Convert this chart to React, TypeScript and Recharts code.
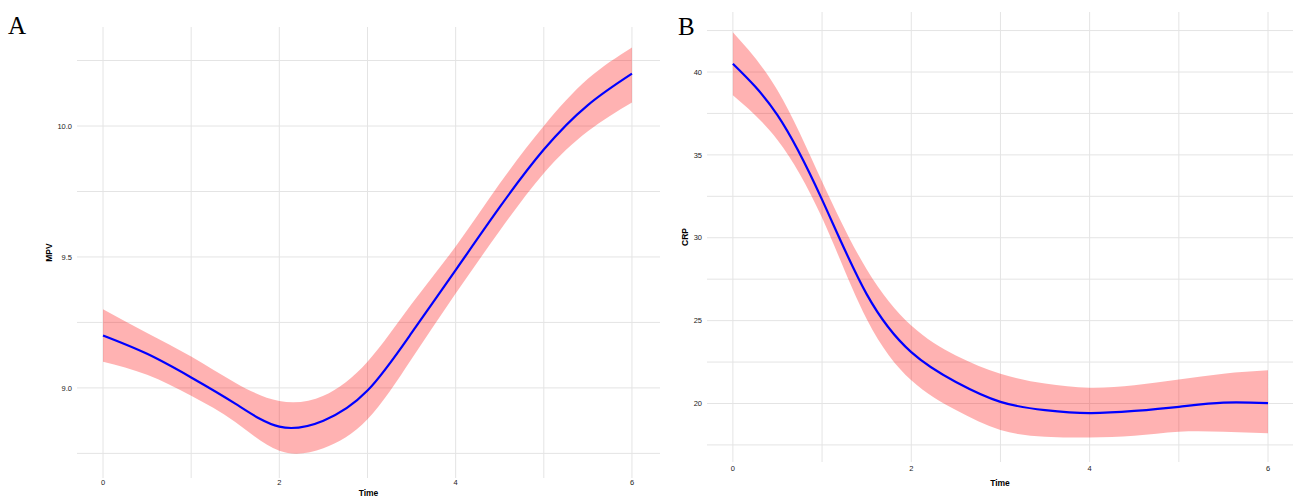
import { Area, CartesianGrid, ComposedChart, Line, XAxis, YAxis } from "recharts";

// time points (every half unit)
const timePoints = [0, 0.5, 1, 1.5, 2, 2.5, 3, 3.5, 4, 4.5, 5, 5.5, 6];

// panel A: MPV fit and its confidence band
const mpvFit = [9.2, 9.13, 9.04, 8.94, 8.852, 8.875, 8.99, 9.21, 9.45, 9.69, 9.91, 10.08, 10.2];
const mpvLower = [9.1, 9.05, 8.97, 8.87, 8.76, 8.77, 8.88, 9.11, 9.36, 9.6, 9.82, 9.98, 10.09];
const mpvUpper = [9.3, 9.21, 9.12, 9.02, 8.95, 8.97, 9.1, 9.32, 9.54, 9.78, 10.0, 10.18, 10.3];

// panel B: CRP fit and its confidence band
const crpFit = [40.5, 37.4, 32.3, 26.6, 23.1, 21.3, 20.1, 19.6, 19.42, 19.55, 19.8, 20.05, 20.02];
const crpLower = [38.6, 35.9, 31.2, 25.1, 21.4, 19.6, 18.4, 18.0, 17.95, 18.05, 18.3, 18.3, 18.2];
const crpUpper = [42.4, 38.9, 33.4, 28.1, 24.7, 22.9, 21.8, 21.2, 20.95, 21.1, 21.45, 21.8, 22.0];

const timeTicks = [0, 2, 4, 6];
const timeGrid = [0, 1, 2, 3, 4, 5, 6];
const mpvTicks = [9.0, 9.5, 10.0];
const mpvGrid = [8.75, 9.0, 9.25, 9.5, 9.75, 10.0, 10.25];
const crpTicks = [20, 25, 30, 35, 40];
const crpGrid = [17.5, 20, 22.5, 25, 27.5, 30, 32.5, 35, 37.5, 40, 42.5];

const sans = "'Liberation Sans', Arial, Helvetica, sans-serif";
const gridColor = "#e4e4e4";

function build(fit: number[], lo: number[], hi: number[]) {
  return timePoints.map((t, i) => ({ t, fit: fit[i], band: [lo[i], hi[i]] }));
}

type PanelProps = {
  letter: string;
  left: number;
  width: number;
  letterX: number;
  letterY: number;
  margin: { top: number; right: number; bottom: number; left: number };
  yAxisWidth: number;
  xAxisHeight: number;
  xTickMargin: number;
  xLabelOffset: number;
  yLabelOffset: number;
  xDomain: [number, number];
  yDomain: [number, number];
  yTicks: number[];
  yGrid: number[];
  yLabel: string;
  fmt: (v: number) => string;
  data: { t: number; fit: number; band: number[] }[];
};

function Panel(p: PanelProps) {
  const tick = { fontSize: 7.5, fill: "#222", fontFamily: sans };
  return (
    <>
      <div
        style={{
          position: "absolute",
          left: p.letterX,
          top: p.letterY,
          fontFamily: "'Liberation Serif', 'Times New Roman', serif",
          fontSize: 25,
          lineHeight: "25px",
          color: "#000",
        }}
      >
        {p.letter}
      </div>
      <div style={{ position: "absolute", left: p.left, top: 0 }}>
        <ComposedChart width={p.width} height={498} data={p.data} margin={p.margin}>
          <CartesianGrid stroke={gridColor} strokeWidth={1} verticalValues={timeGrid} horizontalValues={p.yGrid} />
          <XAxis
            dataKey="t"
            type="number"
            domain={p.xDomain}
            allowDataOverflow
            ticks={timeTicks}
            axisLine={false}
            tickLine={false}
            tickSize={0}
            tickMargin={p.xTickMargin}
            height={p.xAxisHeight}
            tick={tick}
            label={{ value: "Time", position: "insideBottom", offset: p.xLabelOffset, fontSize: 8.5, fontWeight: "bold", fill: "#000", fontFamily: sans }}
          />
          <YAxis
            type="number"
            domain={p.yDomain}
            allowDataOverflow
            ticks={p.yTicks}
            tickFormatter={p.fmt}
            axisLine={false}
            tickLine={false}
            tickSize={0}
            tickMargin={5}
            width={p.yAxisWidth}
            tick={tick}
            label={{
              value: p.yLabel,
              angle: -90,
              position: "insideLeft",
              offset: p.yLabelOffset,
              textAnchor: "middle",
              fontSize: 8.5,
              fontWeight: "bold",
              fill: "#000",
              fontFamily: sans,
            }}
          />
          <Area type="natural" dataKey="band" stroke="none" fill="#ff0000" fillOpacity={0.3} isAnimationActive={false} />
          <Line type="natural" dataKey="fit" stroke="#0000ff" strokeWidth={2.2} dot={false} isAnimationActive={false} />
        </ComposedChart>
      </div>
    </>
  );
}

export default function App() {
  return (
    <div style={{ position: "absolute", left: 0, top: 0, width: 1293, height: 498, background: "#fff", overflow: "hidden" }}>
      <Panel
        letter="A"
        left={0}
        width={670}
        letterX={8}
        letterY={13}
        margin={{ top: 27, right: 10, bottom: 0, left: 37 }}
        yAxisWidth={40}
        xAxisHeight={20}
        xTickMargin={2}
        xLabelOffset={2}
        yLabelOffset={12}
        xDomain={[-0.295, 6.318]}
        yDomain={[8.656, 10.378]}
        yTicks={mpvTicks}
        yGrid={mpvGrid}
        yLabel="MPV"
        fmt={(v) => v.toFixed(1)}
        data={build(mpvFit, mpvLower, mpvUpper)}
      />
      <Panel
        letter="B"
        left={650}
        width={643}
        letterX={678}
        letterY={14}
        margin={{ top: 12, right: 0, bottom: 12, left: 27 }}
        yAxisWidth={30}
        xAxisHeight={24}
        xTickMargin={4}
        xLabelOffset={0}
        yLabelOffset={8}
        xDomain={[-0.29, 6.28]}
        yDomain={[16.47, 43.62]}
        yTicks={crpTicks}
        yGrid={crpGrid}
        yLabel="CRP"
        fmt={(v) => String(v)}
        data={build(crpFit, crpLower, crpUpper)}
      />
    </div>
  );
}
